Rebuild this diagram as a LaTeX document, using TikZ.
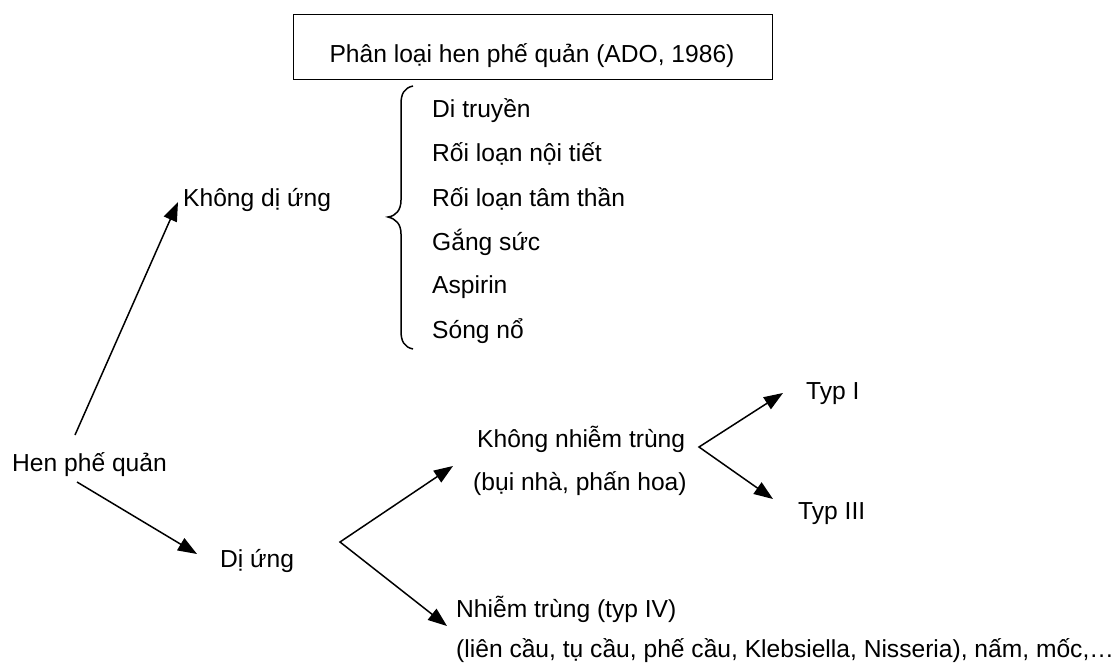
\documentclass[tikz,border=0pt]{standalone}
\usepackage{fontspec}
\setmainfont{Liberation Sans}
\usetikzlibrary{arrows.meta}
\begin{document}
\begin{tikzpicture}[x=1bp,y=-1bp,
  lbl/.style={anchor=base west,inner sep=0pt,font=\fontsize{24.7}{29}\selectfont},
  arr/.style={line width=1.5bp,-{Triangle[length=19bp,width=14bp]}},
  twoarr/.style={line width=1.5bp,{Triangle[length=19bp,width=14bp]}-{Triangle[length=19bp,width=14bp]}}]
\useasboundingbox (0,0) rectangle (1113,663);
% title box
\node[draw,line width=1.4bp,minimum width=479bp,minimum height=65bp,inner sep=0pt,anchor=north west] (box) at (293,14) {};
\node[anchor=base,inner sep=0pt,font=\fontsize{24.7}{29}\selectfont] (title) at (532,63) {Phân loại hen phế quản (ADO, 1986)};
% brace
\draw[line width=1.5bp] (413,86) .. controls (404,88) and (401,94) .. (401,104) -- (401,200) .. controls (401,210) and (396,216) .. (388,217) .. controls (396,219) and (401,224) .. (401,234) -- (401,331) .. controls (401,341) and (404,347) .. (413,349);
% list
\node[lbl] (l1) at (432,118) {Di truyền};
\node[lbl] (l2) at (432,162) {Rối loạn nội tiết};
\node[lbl] (l3) at (432,207) {Rối loạn tâm thần};
\node[lbl] (l4) at (432,250) {Gắng sức};
\node[lbl] (l5) at (432,293) {Aspirin};
\node[lbl] (l6) at (432,338) {Sóng nổ};
% main nodes
\node[lbl] (kdu) at (183,207) {Không dị ứng};
\node[lbl] (hen) at (12,471) {Hen phế quản};
\node[lbl] (du) at (220,567) {Dị ứng};
\node[lbl] (knt) at (477,447) {Không nhiễm trùng};
\node[lbl] (knt2) at (473,490) {(bụi nhà, phấn hoa)};
\node[lbl] (t1) at (806,399) {Typ I};
\node[lbl] (t3) at (798,519) {Typ III};
\node[lbl] (nt) at (456,617) {Nhiễm trùng (typ IV)};
\node[lbl] (nt2) at (456,657) {(liên cầu, tụ cầu, phế cầu, Klebsiella, Nisseria), nấm, mốc,…};
% connector end points
\coordinate (henA) at (75,435);
\coordinate (kduA) at (178,202);
\coordinate (henB) at (77,482);
\coordinate (duA) at (197,554);
\coordinate (v1) at (340,542);
\coordinate (kntA) at (453,466);
\coordinate (ntA) at (447,626);
\coordinate (v2) at (699,447);
\coordinate (t1A) at (783,393);
\coordinate (t3A) at (773,499);
\draw[arr] (henA) -- (kduA);
\draw[arr] (henB) -- (duA);
\draw[twoarr] (kntA) -- (v1) -- (ntA);
\draw[twoarr] (t1A) -- (v2) -- (t3A);
\end{tikzpicture}
\end{document}
